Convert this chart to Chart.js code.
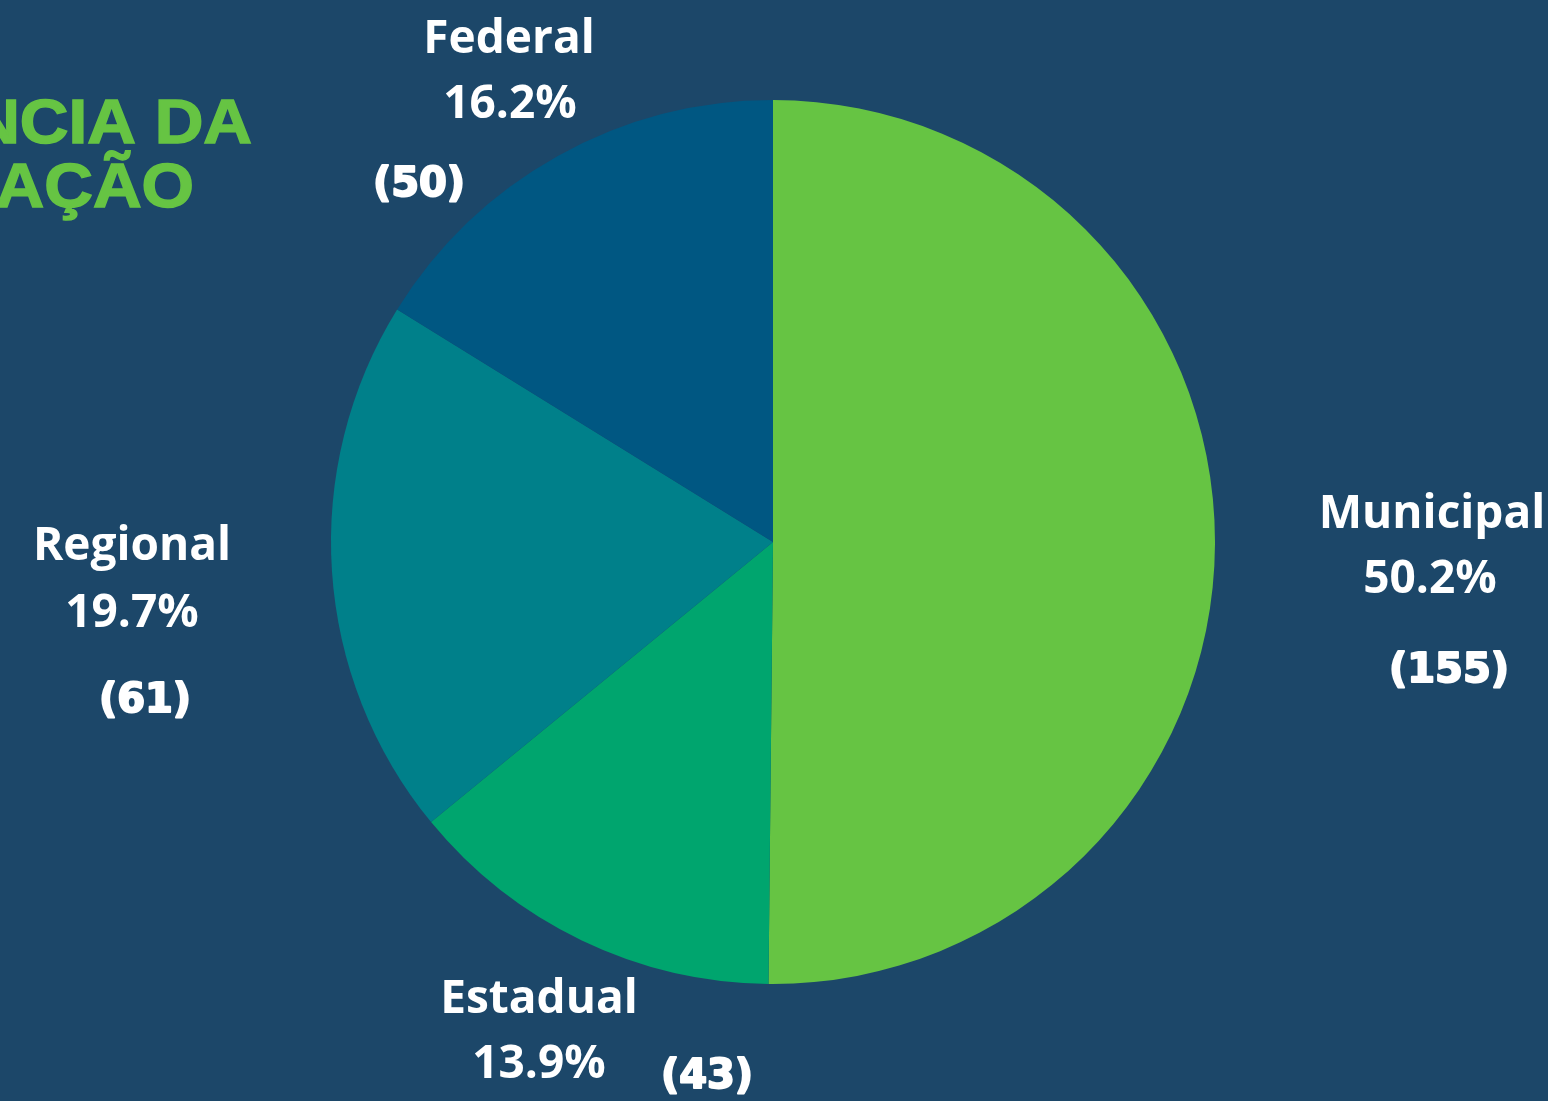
<!DOCTYPE html>
<html>
<head>
<meta charset="utf-8">
<script src="https://cdn.jsdelivr.net/npm/chart.js@4"></script>
<style>
  html, body { margin: 0; padding: 0; background: #1c4769; }
  #wrap { width: 1548px; height: 1101px; position: relative; }
</style>
</head>
<body>
<div id="wrap"><canvas id="pieChart"></canvas></div>
<script>
const categories = ["Municipal", "Estadual", "Regional", "Federal"];
const counts = [155, 43, 61, 50];
const percents = ["50.2%", "13.9%", "19.7%", "16.2%"];
const sliceColors = ["#66c443", "#00a56e", "#00808a", "#005782"];

// label placement, offsets from pie centre (name, percent, count)
const labelLayout = [
  { name: [659, -14], pct: [657, 51], cnt: [676, 140] },
  { name: [-234, 471], pct: [-234, 536], cnt: [-66, 546] },
  { name: [-641, 18], pct: [-641, 85], cnt: [-628, 170] },
  { name: [-264, -489], pct: [-263, -424], cnt: [-354, -346] }
];

const outsideLabels = {
  id: "outsideLabels",
  afterDraw(chart) {
    const ctx = chart.ctx;
    const arc = chart.getDatasetMeta(0).data[0];
    const cx = arc.x, cy = arc.y;
    ctx.save();
    ctx.fillStyle = "#ffffff";
    ctx.strokeStyle = "#ffffff";
    ctx.lineJoin = "round";
    ctx.textAlign = "center";
    ctx.textBaseline = "alphabetic";
    categories.forEach((name, i) => {
      const l = labelLayout[i];
      ctx.font = "bold 46px 'Open Sans'";
      ctx.fillText(name, cx + l.name[0], cy + l.name[1]);
      ctx.fillText(percents[i], cx + l.pct[0], cy + l.pct[1]);
      ctx.font = "bold 40px 'DejaVu Sans'";
      ctx.lineWidth = 2;
      const t = "(" + counts[i] + ")";
      ctx.fillText(t, cx + l.cnt[0], cy + l.cnt[1]);
      ctx.strokeText(t, cx + l.cnt[0], cy + l.cnt[1]);
    });
    ctx.restore();

    // title, cut off at the left edge
    ctx.save();
    ctx.fillStyle = "#66c443";
    ctx.strokeStyle = "#66c443";
    ctx.lineWidth = 1.5;
    ctx.font = "bold 63px 'Liberation Sans'";
    ctx.textAlign = "right";
    ctx.scale(1.07, 1);
    ctx.fillText("ABRANGÊNCIA DA", 252 / 1.07, 143);
    ctx.strokeText("ABRANGÊNCIA DA", 252 / 1.07, 143);
    ctx.fillText("ATUAÇÃO", 194 / 1.07, 207);
    ctx.strokeText("ATUAÇÃO", 194 / 1.07, 207);
    ctx.restore();
  }
};

new Chart(document.getElementById("pieChart"), {
  type: "pie",
  data: {
    labels: categories,
    datasets: [{
      data: counts,
      backgroundColor: sliceColors,
      borderWidth: 0
    }]
  },
  options: {
    responsive: true,
    maintainAspectRatio: false,
    animation: false,
    layout: { padding: { top: 100, bottom: 117, left: 331, right: 333 } },
    plugins: {
      legend: { display: false },
      tooltip: { enabled: false }
    }
  },
  plugins: [outsideLabels]
});
</script>
</body>
</html>
